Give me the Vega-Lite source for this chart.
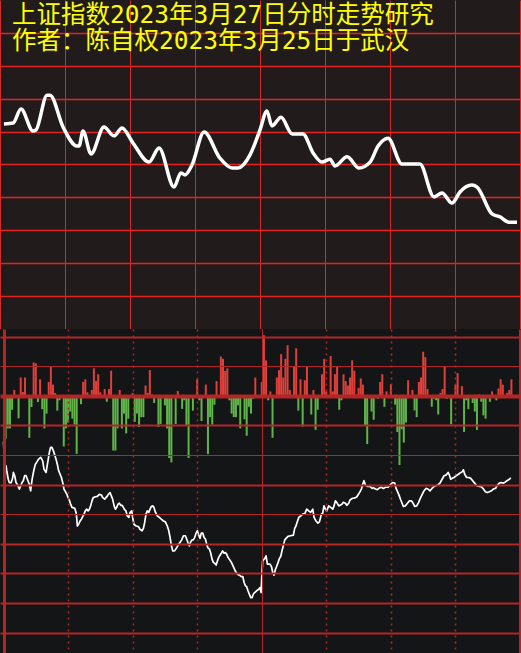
{
"$schema": "https://vega.github.io/schema/vega-lite/v6.json",
"background": "#141517",
"padding": {"left": 0, "top": 0, "right": 521, "bottom": 653},
"spacing": 0,
"bounds": "flush",
"autosize": {"type": "none"},
"config": {"view": {"stroke": null}, "axis": {"labels": false, "ticks": false, "domain": false, "title": null, "minExtent": 0, "maxExtent": 0}},
"resolve": {"scale": {"x": "independent", "y": "independent"}},
"datasets": {
"top": [{"m":1.8,"v":6.23},{"m":6.0,"v":6.26},{"m":9.7,"v":6.69},{"m":15.2,"v":6.02},{"m":16.6,"v":6.05},{"m":21.7,"v":7.11},{"m":23.1,"v":7.11},{"m":29.1,"v":6.14},{"m":35.5,"v":5.56},{"m":36.5,"v":5.56},{"m":38.3,"v":6.02},{"m":42.0,"v":5.32},{"m":48.0,"v":6.14},{"m":52.6,"v":5.87},{"m":56.3,"v":6.11},{"m":61.4,"v":5.65},{"m":68.8,"v":5.07},{"m":73.4,"v":5.5},{"m":80.3,"v":4.31},{"m":83.5,"v":4.74},{"m":85.4,"v":4.68},{"m":88.6,"v":4.98},{"m":94.2,"v":5.99},{"m":101.5,"v":5.19},{"m":107.1,"v":4.89},{"m":109.8,"v":4.89},{"m":115.4,"v":5.29},{"m":120.0,"v":6.05},{"m":123.2,"v":6.63},{"m":125.5,"v":6.17},{"m":129.7,"v":6.44},{"m":134.8,"v":5.93},{"m":139.8,"v":5.93},{"m":144.5,"v":5.35},{"m":148.6,"v":5.07},{"m":152.3,"v":5.16},{"m":154.6,"v":4.95},{"m":160.2,"v":5.23},{"m":165.7,"v":4.89},{"m":170.8,"v":5.07},{"m":174.5,"v":5.56},{"m":179.1,"v":5.8},{"m":185.5,"v":5.01},{"m":193.8,"v":5.01},{"m":200.3,"v":4.01},{"m":204.0,"v":4.13},{"m":208.6,"v":3.82},{"m":212.3,"v":4.16},{"m":217.8,"v":4.37},{"m":220.2,"v":4.31},{"m":227.1,"v":3.49},{"m":230.8,"v":3.4},{"m":234.9,"v":3.24},{"m":238.6,"v":3.24}],
"bars": [{"m":1,"v":-1.45},{"m":2,"v":-1.1},{"m":3,"v":-1.1},{"m":4,"v":-0.47},{"m":5,"v":0.2},{"m":7,"v":-0.76},{"m":8,"v":0.62},{"m":9,"v":0.13},{"m":10,"v":0.62},{"m":12,"v":-1.42},{"m":13,"v":-0.38},{"m":14,"v":1.13},{"m":15,"v":1.1},{"m":16,"v":-0.21},{"m":17,"v":0.56},{"m":18,"v":-0.45},{"m":19,"v":-1.1},{"m":20,"v":-0.6},{"m":21,"v":0.47},{"m":22,"v":1.01},{"m":23,"v":0.38},{"m":24,"v":0.1},{"m":25,"v":-0.5},{"m":26,"v":-0.15},{"m":28,"v":-1.71},{"m":29,"v":-1.1},{"m":30,"v":-0.9},{"m":31,"v":-0.53},{"m":32,"v":-0.77},{"m":33,"v":-0.97},{"m":34,"v":-1.96},{"m":36,"v":-0.28},{"m":37,"v":0.47},{"m":38,"v":0.56},{"m":39,"v":0.12},{"m":41,"v":0.2},{"m":42,"v":0.93},{"m":43,"v":0.5},{"m":44,"v":0.73},{"m":45,"v":0.12},{"m":47,"v":0.23},{"m":48,"v":-0.2},{"m":49,"v":0.23},{"m":50,"v":0.85},{"m":51,"v":-1.85},{"m":52,"v":-1.85},{"m":53,"v":-1.1},{"m":54,"v":0.2},{"m":55,"v":-1.1},{"m":56,"v":-0.6},{"m":57,"v":-1.27},{"m":58,"v":-0.77},{"m":60,"v":0.1},{"m":61,"v":-0.88},{"m":62,"v":-0.6},{"m":63,"v":-1.05},{"m":64,"v":-0.72},{"m":65,"v":-0.72},{"m":66,"v":0.35},{"m":67,"v":0.1},{"m":68,"v":0.87},{"m":69,"v":0.05},{"m":70,"v":-0.24},{"m":72,"v":-1.05},{"m":73,"v":-0.95},{"m":75,"v":-0.32},{"m":76,"v":-1.1},{"m":77,"v":-2.1},{"m":78,"v":-2.25},{"m":80,"v":-0.95},{"m":81,"v":0.16},{"m":83,"v":-0.44},{"m":84,"v":-0.15},{"m":85,"v":-1.0},{"m":86,"v":-2.1},{"m":88,"v":-0.5},{"m":90,"v":0.56},{"m":91,"v":-0.15},{"m":92,"v":-0.85},{"m":94,"v":0.38},{"m":95,"v":-1.97},{"m":96,"v":-0.72},{"m":97,"v":-0.97},{"m":98,"v":-0.3},{"m":99,"v":0.5},{"m":101,"v":1.33},{"m":102,"v":1.25},{"m":103,"v":0.84},{"m":104,"v":0.93},{"m":105,"v":-0.15},{"m":106,"v":-0.6},{"m":107,"v":-0.72},{"m":108,"v":-0.72},{"m":109,"v":-0.32},{"m":110,"v":-1.1},{"m":112,"v":-0.79},{"m":113,"v":-1.35},{"m":114,"v":-0.37},{"m":115,"v":-0.6},{"m":116,"v":-0.1},{"m":117,"v":0.62},{"m":120,"v":0.47},{"m":121,"v":2.05},{"m":122,"v":1.2},{"m":123,"v":-0.15},{"m":124,"v":0.15},{"m":125,"v":-1.42},{"m":127,"v":0.62},{"m":128,"v":0.87},{"m":129,"v":1.41},{"m":130,"v":0.62},{"m":131,"v":1.25},{"m":132,"v":1.71},{"m":133,"v":0.2},{"m":135,"v":1.01},{"m":136,"v":1.61},{"m":137,"v":-0.5},{"m":138,"v":0.56},{"m":139,"v":-1.04},{"m":140,"v":0.53},{"m":141,"v":1.01},{"m":143,"v":-0.63},{"m":144,"v":0.2},{"m":145,"v":-1.15},{"m":146,"v":-0.47},{"m":148,"v":0.73},{"m":149,"v":1.25},{"m":150,"v":0.15},{"m":152,"v":1.35},{"m":153,"v":0.15},{"m":154,"v":0.73},{"m":155,"v":1.01},{"m":156,"v":-0.47},{"m":157,"v":-0.15},{"m":158,"v":0.73},{"m":159,"v":0.5},{"m":160,"v":0.35},{"m":161,"v":0.62},{"m":162,"v":1.2},{"m":163,"v":0.85},{"m":164,"v":0.05},{"m":165,"v":0.27},{"m":166,"v":0.59},{"m":167,"v":0.38},{"m":168,"v":-1.01},{"m":169,"v":-1.63},{"m":171,"v":-0.53},{"m":172,"v":-0.81},{"m":174,"v":-0.1},{"m":175,"v":0.47},{"m":176,"v":0.73},{"m":177,"v":-0.37},{"m":178,"v":0.15},{"m":180,"v":0.4},{"m":182,"v":-0.3},{"m":183,"v":-1.22},{"m":184,"v":-2.34},{"m":185,"v":-1.13},{"m":186,"v":-1.58},{"m":187,"v":-0.9},{"m":188,"v":0.53},{"m":190,"v":0.2},{"m":191,"v":-0.49},{"m":192,"v":-0.72},{"m":193,"v":0.47},{"m":194,"v":0.62},{"m":195,"v":1.49},{"m":196,"v":1.31},{"m":197,"v":0.23},{"m":199,"v":-0.37},{"m":200,"v":-0.1},{"m":201,"v":-0.15},{"m":202,"v":-0.63},{"m":203,"v":0.1},{"m":204,"v":0.23},{"m":205,"v":1.01},{"m":206,"v":-0.1},{"m":207,"v":-0.05},{"m":208,"v":-0.96},{"m":210,"v":0.38},{"m":211,"v":0.77},{"m":213,"v":0.33},{"m":214,"v":-1.22},{"m":215,"v":-0.15},{"m":216,"v":-0.45},{"m":218,"v":-0.24},{"m":219,"v":-0.53},{"m":220,"v":-1.15},{"m":221,"v":0.05},{"m":222,"v":-0.2},{"m":223,"v":-0.66},{"m":224,"v":-0.77},{"m":226,"v":-0.2},{"m":227,"v":0.15},{"m":229,"v":-0.15},{"m":230,"v":0.25},{"m":231,"v":0.56},{"m":232,"v":0.38},{"m":234,"v":0.1},{"m":235,"v":0.2},{"m":236,"v":0.56}],
"line": [{"m":0,"v":-1.55},{"m":0.5,"v":-2.31},{"m":1.2,"v":-2.37},{"m":1.5,"v":-2.53},{"m":2.2,"v":-2.82},{"m":2.7,"v":-2.93},{"m":3.6,"v":-2.93},{"m":4.3,"v":-2.76},{"m":4.6,"v":-2.59},{"m":5.2,"v":-2.7},{"m":5.8,"v":-2.93},{"m":6.4,"v":-2.99},{"m":7.4,"v":-3.15},{"m":8.0,"v":-3.04},{"m":8.6,"v":-2.93},{"m":9.2,"v":-2.87},{"m":9.8,"v":-2.7},{"m":10.5,"v":-2.7},{"m":11.1,"v":-2.82},{"m":12.0,"v":-2.99},{"m":12.6,"v":-3.21},{"m":13.2,"v":-2.87},{"m":13.6,"v":-2.7},{"m":14.2,"v":-2.48},{"m":14.8,"v":-2.31},{"m":15.4,"v":-2.25},{"m":16.3,"v":-2.14},{"m":17.3,"v":-2.08},{"m":18.2,"v":-2.2},{"m":18.8,"v":-2.48},{"m":19.8,"v":-2.59},{"m":20.4,"v":-2.31},{"m":20.8,"v":-2.14},{"m":21.3,"v":-1.91},{"m":21.9,"v":-1.74},{"m":22.5,"v":-1.74},{"m":23.2,"v":-1.86},{"m":23.8,"v":-2.0},{"m":24.4,"v":-2.14},{"m":25.0,"v":-2.31},{"m":25.6,"v":-2.53},{"m":26.3,"v":-2.65},{"m":26.9,"v":-2.76},{"m":27.5,"v":-2.93},{"m":28.1,"v":-3.15},{"m":28.7,"v":-3.23},{"m":29.4,"v":-3.32},{"m":30.0,"v":-3.44},{"m":30.6,"v":-3.53},{"m":31.2,"v":-3.66},{"m":31.8,"v":-3.77},{"m":33.1,"v":-3.8},{"m":33.7,"v":-3.94},{"m":34.0,"v":-4.11},{"m":34.3,"v":-4.4},{"m":34.9,"v":-4.34},{"m":35.6,"v":-4.23},{"m":36.2,"v":-4.17},{"m":36.8,"v":-4.08},{"m":37.4,"v":-4.0},{"m":38.0,"v":-3.89},{"m":38.7,"v":-3.83},{"m":39.3,"v":-3.89},{"m":39.9,"v":-3.83},{"m":40.5,"v":-3.72},{"m":41.1,"v":-3.55},{"m":41.7,"v":-3.44},{"m":42.7,"v":-3.41},{"m":43.6,"v":-3.4},{"m":44.5,"v":-3.33},{"m":45.5,"v":-3.35},{"m":46.1,"v":-3.44},{"m":47.0,"v":-3.49},{"m":47.6,"v":-3.44},{"m":48.3,"v":-3.38},{"m":48.9,"v":-3.31},{"m":49.5,"v":-3.27},{"m":50.1,"v":-3.38},{"m":50.7,"v":-3.49},{"m":51.4,"v":-3.72},{"m":52.0,"v":-3.83},{"m":52.6,"v":-3.77},{"m":53.2,"v":-3.66},{"m":53.8,"v":-3.63},{"m":54.5,"v":-3.7},{"m":55.1,"v":-3.7},{"m":55.7,"v":-3.77},{"m":56.3,"v":-3.85},{"m":56.9,"v":-3.89},{"m":57.5,"v":-4.06},{"m":58.2,"v":-4.11},{"m":58.8,"v":-3.95},{"m":59.6,"v":-3.89},{"m":60.0,"v":-4.11},{"m":60.6,"v":-4.34},{"m":61.6,"v":-4.4},{"m":62.7,"v":-4.42},{"m":63.4,"v":-4.51},{"m":64.4,"v":-4.56},{"m":65.0,"v":-4.48},{"m":65.6,"v":-4.28},{"m":66.2,"v":-4.0},{"m":66.8,"v":-3.89},{"m":67.5,"v":-3.94},{"m":68.1,"v":-3.83},{"m":68.7,"v":-3.74},{"m":69.3,"v":-3.72},{"m":69.9,"v":-3.77},{"m":70.6,"v":-3.94},{"m":71.5,"v":-4.06},{"m":72.4,"v":-4.11},{"m":73.3,"v":-4.17},{"m":74.3,"v":-4.23},{"m":75.2,"v":-4.26},{"m":76.1,"v":-4.4},{"m":76.8,"v":-4.56},{"m":77.4,"v":-4.79},{"m":78.0,"v":-5.05},{"m":78.6,"v":-5.24},{"m":79.5,"v":-5.24},{"m":80.5,"v":-5.13},{"m":81.4,"v":-5.01},{"m":82.0,"v":-4.96},{"m":82.8,"v":-4.87},{"m":83.6,"v":-4.73},{"m":84.5,"v":-4.73},{"m":85.1,"v":-4.84},{"m":85.7,"v":-4.96},{"m":86.4,"v":-5.07},{"m":87.0,"v":-4.93},{"m":87.6,"v":-4.87},{"m":88.2,"v":-4.87},{"m":88.8,"v":-4.79},{"m":89.5,"v":-4.64},{"m":90.1,"v":-4.56},{"m":90.7,"v":-4.71},{"m":91.3,"v":-4.82},{"m":91.9,"v":-4.64},{"m":92.6,"v":-4.64},{"m":93.2,"v":-4.79},{"m":93.8,"v":-4.84},{"m":94.4,"v":-5.01},{"m":95.0,"v":-5.14},{"m":95.7,"v":-5.18},{"m":96.3,"v":-5.32},{"m":96.9,"v":-5.52},{"m":97.5,"v":-5.63},{"m":98.1,"v":-5.66},{"m":98.8,"v":-5.72},{"m":99.4,"v":-5.58},{"m":100.0,"v":-5.46},{"m":100.6,"v":-5.39},{"m":101.2,"v":-5.32},{"m":101.8,"v":-5.24},{"m":102.5,"v":-5.32},{"m":103.1,"v":-5.3},{"m":103.7,"v":-5.35},{"m":104.3,"v":-5.46},{"m":104.9,"v":-5.52},{"m":105.9,"v":-5.63},{"m":106.8,"v":-5.77},{"m":107.7,"v":-5.92},{"m":108.7,"v":-6.03},{"m":109.6,"v":-6.06},{"m":110.5,"v":-6.11},{"m":111.2,"v":-6.11},{"m":111.8,"v":-6.31},{"m":112.4,"v":-6.42},{"m":113.0,"v":-6.45},{"m":113.6,"v":-6.59},{"m":114.2,"v":-6.7},{"m":114.9,"v":-6.82},{"m":115.5,"v":-6.82},{"m":116.1,"v":-6.7},{"m":116.7,"v":-6.65},{"m":117.6,"v":-6.59},{"m":118.6,"v":-6.54},{"m":119.2,"v":-6.48},{"m":119.7,"v":-6.65},{"m":120.0,"v":-6.14},{"m":120.4,"v":-5.58},{"m":121.4,"v":-5.5},{"m":122.0,"v":-5.41},{"m":122.6,"v":-5.69},{"m":123.8,"v":-5.69},{"m":124.5,"v":-5.77},{"m":125.1,"v":-5.97},{"m":125.7,"v":-6.06},{"m":126.3,"v":-5.88},{"m":126.9,"v":-5.77},{"m":127.6,"v":-5.63},{"m":128.2,"v":-5.5},{"m":128.8,"v":-5.43},{"m":129.4,"v":-5.24},{"m":130.0,"v":-5.07},{"m":130.7,"v":-4.87},{"m":131.3,"v":-4.82},{"m":132.2,"v":-4.75},{"m":133.4,"v":-4.73},{"m":134.7,"v":-4.71},{"m":135.3,"v":-4.48},{"m":135.9,"v":-4.4},{"m":136.5,"v":-4.26},{"m":137.2,"v":-4.11},{"m":138.1,"v":-4.06},{"m":139.0,"v":-4.0},{"m":140.0,"v":-3.98},{"m":140.9,"v":-3.83},{"m":141.8,"v":-3.89},{"m":142.7,"v":-3.94},{"m":143.7,"v":-3.83},{"m":144.3,"v":-4.11},{"m":145.2,"v":-4.23},{"m":146.1,"v":-4.3},{"m":146.8,"v":-4.26},{"m":147.7,"v":-4.0},{"m":148.3,"v":-3.97},{"m":148.9,"v":-3.72},{"m":149.6,"v":-3.83},{"m":150.2,"v":-3.89},{"m":151.1,"v":-3.72},{"m":152.0,"v":-3.77},{"m":153.0,"v":-3.83},{"m":153.6,"v":-3.72},{"m":154.2,"v":-3.55},{"m":154.8,"v":-3.6},{"m":155.8,"v":-3.72},{"m":156.4,"v":-3.7},{"m":157.3,"v":-3.66},{"m":157.9,"v":-3.6},{"m":158.9,"v":-3.63},{"m":159.5,"v":-3.7},{"m":160.4,"v":-3.63},{"m":161.0,"v":-3.52},{"m":162.0,"v":-3.47},{"m":163.2,"v":-3.45},{"m":164.1,"v":-3.42},{"m":164.7,"v":-3.35},{"m":165.4,"v":-3.27},{"m":166.3,"v":-3.15},{"m":166.9,"v":-2.99},{"m":167.5,"v":-2.87},{"m":168.2,"v":-3.02},{"m":169.1,"v":-3.06},{"m":170.3,"v":-3.06},{"m":171.3,"v":-3.13},{"m":171.9,"v":-3.11},{"m":172.8,"v":-3.15},{"m":173.7,"v":-3.17},{"m":174.7,"v":-3.11},{"m":175.6,"v":-3.09},{"m":176.5,"v":-3.13},{"m":177.5,"v":-3.09},{"m":178.7,"v":-3.09},{"m":179.6,"v":-3.02},{"m":180.8,"v":-2.93},{"m":181.8,"v":-2.95},{"m":182.4,"v":-3.13},{"m":183.3,"v":-3.27},{"m":183.9,"v":-3.38},{"m":184.6,"v":-3.52},{"m":185.2,"v":-3.63},{"m":185.8,"v":-3.74},{"m":186.7,"v":-3.72},{"m":187.7,"v":-3.63},{"m":188.6,"v":-3.55},{"m":189.5,"v":-3.55},{"m":190.1,"v":-3.6},{"m":191.1,"v":-3.74},{"m":192.0,"v":-3.72},{"m":192.9,"v":-3.6},{"m":193.5,"v":-3.49},{"m":194.5,"v":-3.34},{"m":195.4,"v":-3.21},{"m":196.3,"v":-3.13},{"m":197.3,"v":-3.15},{"m":198.2,"v":-3.21},{"m":199.1,"v":-3.13},{"m":200.1,"v":-3.06},{"m":201.0,"v":-3.04},{"m":201.9,"v":-3.01},{"m":202.8,"v":-2.95},{"m":203.8,"v":-2.82},{"m":204.7,"v":-2.7},{"m":205.6,"v":-2.68},{"m":206.6,"v":-2.59},{"m":207.2,"v":-2.68},{"m":207.8,"v":-2.82},{"m":208.4,"v":-2.79},{"m":209.3,"v":-2.76},{"m":210.3,"v":-2.7},{"m":211.2,"v":-2.66},{"m":212.1,"v":-2.61},{"m":213.1,"v":-2.57},{"m":213.7,"v":-2.5},{"m":214.3,"v":-2.65},{"m":215.2,"v":-2.76},{"m":216.2,"v":-2.76},{"m":217.1,"v":-2.79},{"m":218.0,"v":-2.87},{"m":218.9,"v":-2.95},{"m":219.9,"v":-3.04},{"m":221.1,"v":-3.06},{"m":222.0,"v":-3.07},{"m":223.0,"v":-3.15},{"m":223.9,"v":-3.24},{"m":224.8,"v":-3.27},{"m":225.8,"v":-3.24},{"m":226.7,"v":-3.21},{"m":227.6,"v":-3.15},{"m":228.6,"v":-3.13},{"m":229.5,"v":-3.02},{"m":230.4,"v":-2.95},{"m":231.3,"v":-2.93},{"m":232.3,"v":-2.95},{"m":233.2,"v":-2.91},{"m":234.1,"v":-2.86},{"m":235.1,"v":-2.82},{"m":235.7,"v":-2.77}]
},
"vconcat": [
{
"width": 521, "height": 329,
"view": {"fill": "#211c1b", "stroke": null},
"title": {"text": ["上证指数2023年3月27日分时走势研究", "作者：陈自权2023年3月25日于武汉"], "anchor": "start", "orient": "top", "frame": "group", "offset": -54, "dx": 12, "fontSize": 24.5, "font": "DejaVu Sans Mono, Noto Sans CJK SC", "fontWeight": "normal", "color": "#ffff00", "lineHeight": 26},
"data": {"name": "top"},
"mark": {"type": "line", "color": "#ffffff", "strokeWidth": 3.5, "strokeJoin": "round", "interpolate": "monotone"},
"encoding": {
"x": {"field": "m", "type": "quantitative", "scale": {"domain": [0, 240.46], "nice": false, "zero": false, "padding": 0}, "axis": {"values": [0,30,60,90,120,150,180,210,240], "grid": true, "gridColor": "#d42a2a", "gridWidth": 1, "gridOpacity": 1}},
"y": {"field": "v", "type": "quantitative", "scale": {"domain": [-0.018, 10.012], "nice": false, "zero": false}, "axis": {"values": [1,2,3,4,5,6,7,8,9], "grid": true, "gridColor": "#e52222", "gridWidth": 1.6, "gridOpacity": 1}}
}
},
{
"width": 521, "height": 324,
"view": {"fill": "#141517", "stroke": null},
"encoding": {
"x": {"field": "m", "type": "quantitative", "scale": {"domain": [-1.63, 240.46], "nice": false, "zero": false, "padding": 0}, "axis": {"values": [0,30,60,90,120,150,180,210,240], "grid": true, "zindex": 1, "gridColor": "#b32626", "gridOpacity": 1, "gridDash": {"condition": {"test": "datum.value % 120 === 0", "value": []}, "value": [2, 4]}, "gridWidth": {"condition": [{"test": "datum.value === 0 || datum.value === 240", "value": 3}, {"test": "datum.value === 120", "value": 1}], "value": 1.5}}},
"y": {"field": "v", "type": "quantitative", "scale": {"domain": [-8.693, 2.26], "nice": false, "zero": false, "padding": 0}, "axis": {"values": [2,1,0,-1,-2,-3,-4,-5,-6,-7,-8], "grid": true, "zindex": 1, "gridColor": "#b32626", "gridOpacity": 1, "gridWidth": {"condition": [{"test": "datum.value === 0", "value": 4}, {"test": "datum.value === 1 || datum.value === -2 || datum.value === -4", "value": 1}], "value": 2}}}
},
"layer": [
{"data": {"name": "bars"}, "mark": {"type": "bar", "size": 2}, "encoding": {"y2": {"datum": 0}, "color": {"condition": {"test": "datum.v > 0", "value": "#e0403a"}, "value": "#5fb548"}}},
{"data": {"name": "line"}, "mark": {"type": "line", "color": "#ffffff", "strokeWidth": 1.7, "strokeJoin": "round"}}
]
}
]
}
